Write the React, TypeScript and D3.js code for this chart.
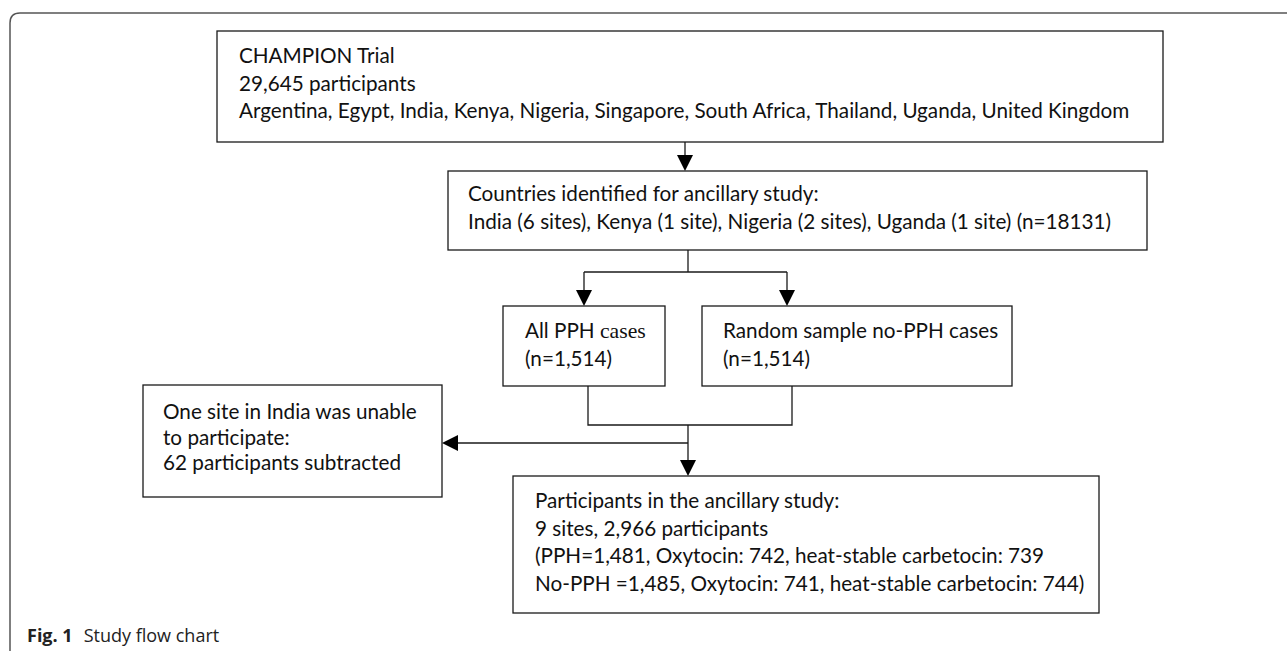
import React, { useEffect, useRef } from "react";
import * as d3 from "d3";

const topLines = [
  "CHAMPION Trial",
  "29,645 participants",
  "Argentina, Egypt, India, Kenya, Nigeria, Singapore, South Africa, Thailand, Uganda, United Kingdom",
];
const countryLines = [
  "Countries identified for ancillary study:",
  "India (6 sites), Kenya (1 site), Nigeria (2 sites), Uganda (1 site) (n=18131)",
];
const pphLines = ["All PPH |cases", "(n=1,514)"];
const randomLines = ["Random sample no-PPH cases", "(n=1,514)"];
const excludedLines = [
  "One site in India was unable",
  "to participate:",
  "62 participants subtracted",
];
const finalLines = [
  "Participants in the ancillary study:",
  "9 sites, 2,966 participants",
  "(PPH=1,481, Oxytocin: 742, heat-stable carbetocin: 739",
  "No-PPH =1,485, Oxytocin: 741, heat-stable carbetocin: 744)",
];
const captionBold = "Fig. 1";
const captionText = "Study flow chart";

const W = 1287;
const H = 651;
const FONT = "Lato, 'Noto Sans', sans-serif";

export default function App() {
  const ref = useRef<SVGSVGElement | null>(null);

  useEffect(() => {
    const svg = d3.select(ref.current);
    svg.selectAll("*").remove();

    // outer frame (open to right and bottom)
    const fp = d3.path();
    fp.moveTo(10, H);
    fp.lineTo(10, 23);
    fp.quadraticCurveTo(10, 13, 20, 13);
    fp.lineTo(W, 13);
    svg.append("path").attr("d", fp.toString()).attr("fill", "none").attr("stroke", "#555").attr("stroke-width", 1.5);

    const lineColor = "#1a1a1a";

    const box = (x0: number, y0: number, x1: number, y1: number, lines: string[], tx: number, ty: number, lh: number, fs: number) => {
      svg.append("rect").attr("x", x0).attr("y", y0).attr("width", x1 - x0).attr("height", y1 - y0)
        .attr("fill", "#fff").attr("stroke", lineColor).attr("stroke-width", 1.3);
      lines.forEach((l, i) => {
        const t = svg.append("text").attr("x", tx).attr("y", ty + i * lh)
          .attr("font-family", FONT).attr("font-size", fs).attr("fill", "#111");
        const parts = l.split("|");
        t.append("tspan").text(parts[0]);
        if (parts[1]) {
          t.append("tspan").attr("font-family", "'Liberation Serif', 'DejaVu Serif', serif").attr("font-size", fs + 1).text(parts[1]);
        }
      });
    };

    const seg = (pts: [number, number][]) => {
      svg.append("path").attr("d", d3.line()(pts) as string).attr("fill", "none")
        .attr("stroke", lineColor).attr("stroke-width", 1.3);
    };
    const headDown = (x: number, y: number) => {
      svg.append("path").attr("d", d3.line()([[x - 8, y - 16], [x + 8, y - 16], [x, y]]) + "Z").attr("fill", "#000");
    };
    const headLeft = (x: number, y: number) => {
      svg.append("path").attr("d", d3.line()([[x + 16, y - 8], [x + 16, y + 8], [x, y]]) + "Z").attr("fill", "#000");
    };

    // connectors
    seg([[685, 142], [685, 160]]);
    headDown(685, 171);
    seg([[688, 250], [688, 272]]);
    seg([[584, 272], [787, 272]]);
    seg([[584, 272], [584, 295]]);
    seg([[787, 272], [787, 295]]);
    headDown(584, 306);
    headDown(787, 306);
    seg([[588, 386], [588, 425], [792, 425], [792, 386]]);
    seg([[688, 425], [688, 465]]);
    headDown(688, 476);
    seg([[688, 443], [452, 443]]);
    headLeft(442, 443);

    const fs = 20.7;
    box(217, 31, 1163, 142, topLines, 239, 63, 27.5, fs);
    box(448, 171, 1147, 250, countryLines, 468, 201, 27.5, fs);
    box(503, 306, 665, 386, pphLines, 525, 338, 28, fs);
    box(702, 306, 1012, 386, randomLines, 723, 338, 28, fs);
    box(143, 385, 442, 497, excludedLines, 163, 419, 25.5, fs);
    box(513, 476, 1099, 613, finalLines, 535, 508, 27.6, fs);

    const cap = svg.append("text").attr("x", 27).attr("y", 642).attr("font-family", "'Open Sans', sans-serif")
      .attr("font-size", 18).attr("fill", "#222");
    cap.append("tspan").attr("font-weight", "bold").text(captionBold);
    cap.append("tspan").attr("dx", 11).text(captionText);
  }, []);

  return (
    <svg ref={ref} width={W} height={H} style={{ position: "absolute", left: 0, top: 0, background: "#fff" }} />
  );
}
